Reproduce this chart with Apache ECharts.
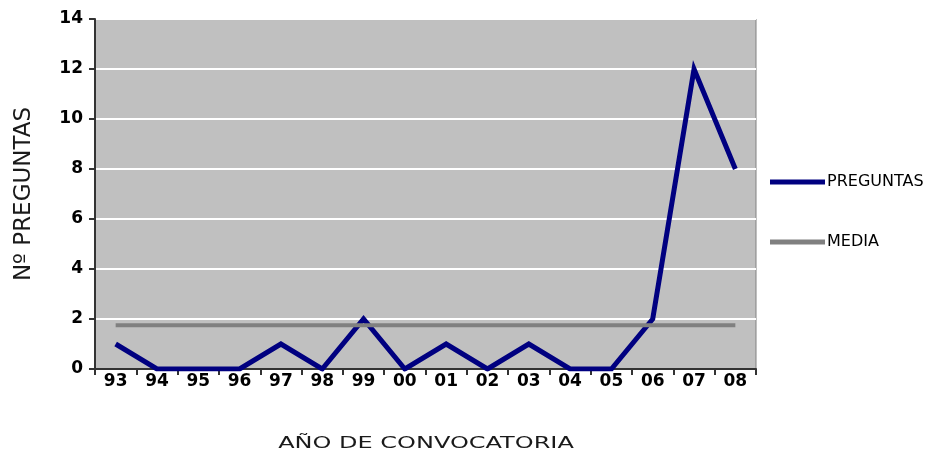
<!DOCTYPE html>
<html>
<head>
<meta charset="utf-8">
<script src="https://cdn.jsdelivr.net/npm/echarts@6/dist/echarts.min.js"></script>
<style>
  html, body { margin: 0; padding: 0; background: #ffffff; }
  #chart { width: 934px; height: 464px; }
</style>
</head>
<body>
<div id="chart"></div>
<script>
// Exam years (convocatorias) and number of questions per year
const years = ['93', '94', '95', '96', '97', '98', '99', '00', '01', '02', '03', '04', '05', '06', '07', '08'];
const preguntas = [1, 0, 0, 0, 1, 0, 2, 0, 1, 0, 1, 0, 0, 2, 12, 8];
// Mean over all years (28 / 16)
const media = [1.75, 1.75, 1.75, 1.75, 1.75, 1.75, 1.75, 1.75, 1.75, 1.75, 1.75, 1.75, 1.75, 1.75, 1.75, 1.75];
const yTicks = { min: 0, max: 14, interval: 2 };

const xTitle = 'AÑO DE CONVOCATORIA';
const yTitle = 'Nº PREGUNTAS';

const chart = echarts.init(document.getElementById('chart'), null, { renderer: 'canvas' });

const tickFont = { fontFamily: 'DejaVu Sans', fontWeight: 'bold', fontSize: 17, color: '#000000' };

chart.setOption({
  backgroundColor: '#ffffff',
  animation: false,
  grid: {
    left: 95, top: 19, right: 178, bottom: 95,
    show: true,
    backgroundColor: '#c0c0c0',
    borderColor: '#808080',
    borderWidth: 1
  },
  legend: {
    orient: 'vertical',
    left: 765,
    top: 169,
    icon: 'rect',
    itemWidth: 55,
    itemHeight: 5,
    itemGap: 44,
    textStyle: { fontFamily: 'DejaVu Sans', fontSize: 16, color: '#000000', padding: [0, 0, 0, -3] },
    data: ['PREGUNTAS', 'MEDIA']
  },
  xAxis: {
    type: 'category',
    data: years,
    boundaryGap: true,
    axisLine: { lineStyle: { color: '#333333', width: 2 } },
    axisTick: { show: true, length: 6, lineStyle: { color: '#333333', width: 2 } },
    axisLabel: Object.assign({ margin: 4 }, tickFont),
    splitLine: { show: false }
  },
  yAxis: {
    type: 'value',
    min: yTicks.min,
    max: yTicks.max,
    interval: yTicks.interval,
    axisLine: { show: true, lineStyle: { color: '#333333', width: 2 } },
    axisTick: { show: true, length: 6, lineStyle: { color: '#333333', width: 2 } },
    axisLabel: Object.assign({ margin: 12 }, tickFont),
    splitLine: { show: true, lineStyle: { color: '#ffffff', width: 2 } }
  },
  series: [
    {
      name: 'PREGUNTAS',
      type: 'line',
      data: preguntas,
      showSymbol: false,
      symbol: 'none',
      color: '#000080',
      lineStyle: { color: '#000080', width: 5, join: 'miter' },
      z: 3
    },
    {
      name: 'MEDIA',
      type: 'line',
      data: media,
      showSymbol: false,
      symbol: 'none',
      color: '#808080',
      lineStyle: { color: '#808080', width: 4 },
      z: 4
    }
  ],
  graphic: [
    {
      type: 'text',
      x: 426, y: 444,
      scaleX: 1.5,
      style: {
        text: xTitle,
        fontFamily: 'DejaVu Sans',
        fontSize: 16,
        fill: '#1a1a1a',
        align: 'center',
        verticalAlign: 'middle'
      }
    },
    {
      type: 'text',
      x: 24, y: 194,
      rotation: Math.PI / 2,
      style: {
        text: yTitle,
        fontFamily: 'DejaVu Sans',
        fontSize: 23,
        fill: '#1a1a1a',
        align: 'center',
        verticalAlign: 'middle'
      }
    }
  ]
});
</script>
</body>
</html>
